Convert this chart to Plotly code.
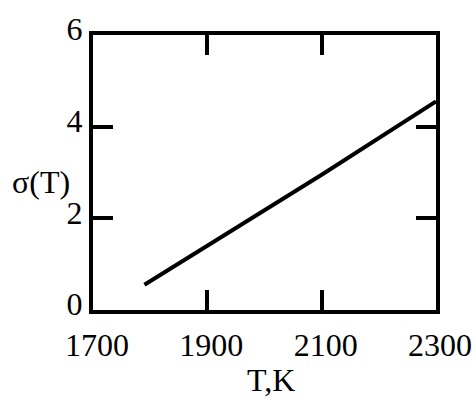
import plotly.graph_objects as go

temperature_K = [1790, 1900, 2100, 2300]
sigma_T = [0.55, 1.40, 2.95, 4.55]

x_ticks = [1700, 1900, 2100, 2300]
y_ticks = [0, 2, 4, 6]

FONT = "Liberation Serif"

fig = go.Figure()
fig.add_trace(go.Scatter(x=temperature_K, y=sigma_T, mode="lines",
                         line=dict(color="black", width=4), showlegend=False))

axis_common = dict(showline=True, linecolor="black", linewidth=4,
                   ticks="inside", ticklen=20, tickwidth=3.5, tickcolor="black",
                   mirror="allticks", showgrid=False, zeroline=False, automargin=False,
                   tickfont=dict(family=FONT, size=32, color="black"))

fig.update_xaxes(range=[1700, 2300], tickvals=x_ticks, ticktext=[str(v) for v in x_ticks],
                 ticklabelshift=4, ticklabelstandoff=4, **axis_common)
fig.update_yaxes(range=[0, 6], tickvals=y_ticks, ticktext=[str(v) for v in y_ticks],
                 ticklabelshift=-6, **axis_common)

fig.add_annotation(text="σ(T)", xref="paper", yref="paper", x=-0.152, y=0.465,
                   xanchor="center", yanchor="middle", showarrow=False,
                   font=dict(family=FONT, size=32, color="black"))
fig.add_annotation(text="T,K", xref="paper", yref="paper", x=0.52, y=-0.255,
                   xanchor="center", yanchor="middle", showarrow=False,
                   font=dict(family=FONT, size=32, color="black"))

fig.update_layout(width=476, height=403, margin=dict(l=93, r=40, t=35, b=93, autoexpand=False),
                  font=dict(family=FONT, size=32, color="black"),
                  plot_bgcolor="white", paper_bgcolor="white")

fig.write_html("out.html", config={"displayModeBar": False},
               post_script="document.body.style.margin='0';document.body.style.padding='0';")
